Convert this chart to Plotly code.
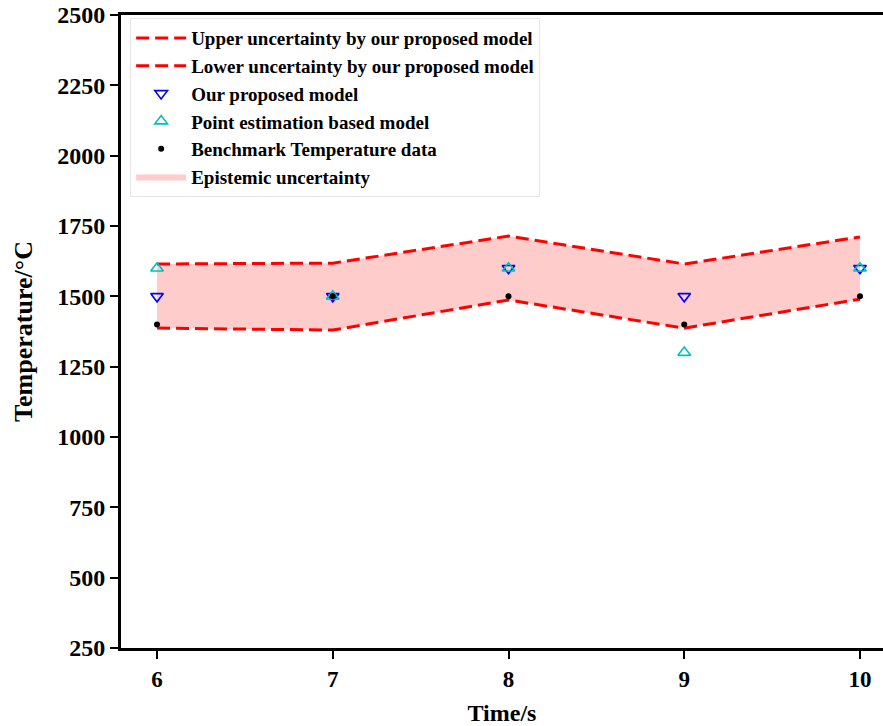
import plotly.graph_objects as go

# Time steps (s)
time_s = [6, 7, 8, 9, 10]

# Uncertainty bounds from the proposed model (°C)
upper_bound = [1615, 1618, 1714, 1615, 1711]
lower_bound = [1387, 1380, 1487, 1387, 1490]

# Model predictions and benchmark data (°C)
proposed_model = [1500, 1500, 1600, 1500, 1600]
point_estimation = [1600, 1500, 1600, 1300, 1600]
benchmark = [1400, 1500, 1500, 1400, 1500]

y_ticks = [250, 500, 750, 1000, 1250, 1500, 1750, 2000, 2250, 2500]
x_ticks = [6, 7, 8, 9, 10]

FONT = "Liberation Serif"

fig = go.Figure()

# Shaded band between the bounds
fig.add_trace(go.Scatter(
    x=time_s, y=lower_bound, mode="lines", line=dict(width=0),
    showlegend=False, hoverinfo="skip",
))
fig.add_trace(go.Scatter(
    x=time_s, y=upper_bound, mode="lines", line=dict(width=0),
    fill="tonexty", fillcolor="#FFCCCC",
    name="Epistemic uncertainty", legendrank=6, legendgroup="g6",
))

# Dashed bound lines
fig.add_trace(go.Scatter(
    x=time_s, y=upper_bound, mode="lines",
    line=dict(color="#FF0000", width=3, dash="13px,6px"),
    name="Upper uncertainty by our proposed model", legendrank=1, legendgroup="g1",
))
fig.add_trace(go.Scatter(
    x=time_s, y=lower_bound, mode="lines",
    line=dict(color="#FF0000", width=3, dash="13px,6px"),
    name="Lower uncertainty by our proposed model", legendrank=2, legendgroup="g2",
))

# Point markers
fig.add_trace(go.Scatter(
    x=time_s, y=proposed_model, mode="markers",
    marker=dict(symbol="triangle-down-open", size=11, color="#0000FF",
                line=dict(width=1.6, color="#0000FF")),
    name="Our proposed model", legendrank=3, legendgroup="g3",
))
fig.add_trace(go.Scatter(
    x=time_s, y=point_estimation, mode="markers",
    marker=dict(symbol="triangle-up-open", size=11, color="#00BFBF",
                line=dict(width=1.6, color="#00BFBF")),
    name="Point estimation based model", legendrank=4, legendgroup="g4",
))
fig.add_trace(go.Scatter(
    x=time_s, y=benchmark, mode="markers",
    marker=dict(symbol="circle", size=6, color="#000000"),
    name="Benchmark Temperature data", legendrank=5, legendgroup="g5",
))

fig.update_layout(
    width=883, height=726,
    margin=dict(l=121, r=0, t=15, b=78),
    paper_bgcolor="white", plot_bgcolor="white",
    font=dict(family=FONT, color="#000000"),
    legend=dict(
        x=0.012, y=0.995, xanchor="left", yanchor="top",
        bgcolor="white", bordercolor="#E6E6E6", borderwidth=1,
        font=dict(family=FONT, size=19, color="#000000", weight="bold"),
        tracegroupgap=0, itemwidth=50,
    ),
    xaxis=dict(
        range=[5.795, 10.131], tickmode="array", tickvals=x_ticks,
        ticktext=[str(v) for v in x_ticks],
        showgrid=False, zeroline=False,
        showline=True, linecolor="black", linewidth=3, mirror=True,
        ticks="outside", ticklen=8, tickwidth=2, tickcolor="black",
        tickfont=dict(family=FONT, size=23, weight="bold"),
        title=dict(text="Time/s", font=dict(family=FONT, size=24, weight="bold"),
                   standoff=18),
    ),
    yaxis=dict(
        range=[250, 2500], tickmode="array", tickvals=y_ticks,
        ticktext=[str(v) for v in y_ticks],
        showgrid=False, zeroline=False,
        showline=True, linecolor="black", linewidth=3, mirror=False,
        ticks="outside", ticklen=8, tickwidth=2, tickcolor="black",
        tickfont=dict(family=FONT, size=24, weight="bold"),
        title=dict(text="Temperature/°C", font=dict(family=FONT, size=26, weight="bold"),
                   standoff=18),
    ),
)

fig.write_html("out.html")
